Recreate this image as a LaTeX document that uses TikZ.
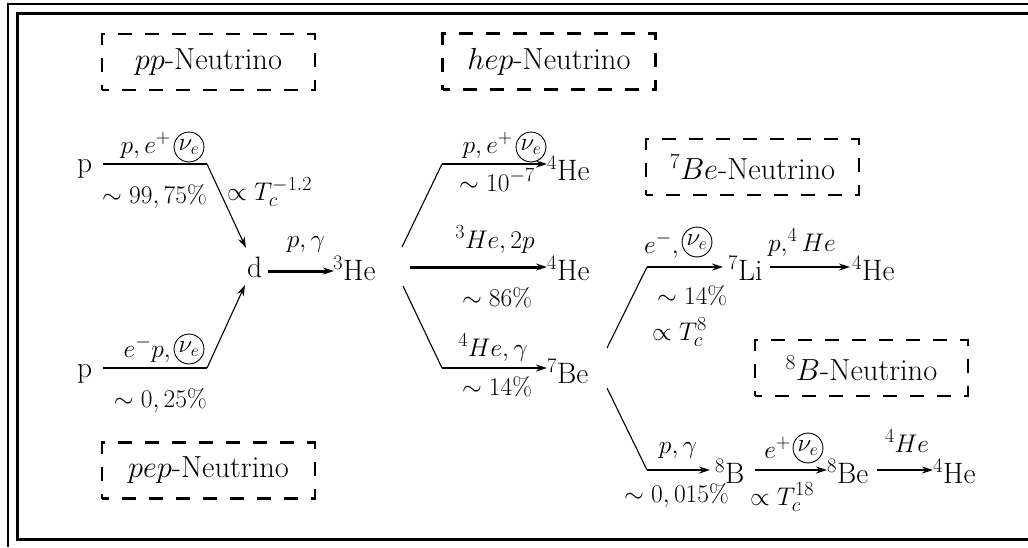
\RequirePackage{fix-cm}
\documentclass[tikz,border=0pt]{standalone}
\usetikzlibrary{arrows.meta}
\DeclareMathSizes{25.5}{25.5}{20}{15}
\begin{document}
\begin{tikzpicture}[x=1pt,y=-1pt,
  sp/.style={font=\fontsize{29.5}{35}\selectfont, inner sep=0pt, anchor=base west},
  lab/.style={font=\fontsize{25.5}{30}\selectfont, inner sep=0pt},
  nu/.style={draw, circle, inner sep=1.7pt, line width=0.9pt, font=\fontsize{25}{30}\selectfont},
  nbox/.style={draw, line width=2.5pt, dash pattern=on 14pt off 13pt, dash phase=7pt,
    minimum width=213pt, minimum height=56pt, font=\fontsize{30.5}{36}\selectfont, inner sep=0pt},
  diag/.style={line width=1.1pt},
  hl/.style={line width=1.8pt},
  thk/.style={line width=3pt},
  tip/.style={-{Stealth[length=11pt,width=7pt]}}
]
\useasboundingbox (0,0) rectangle (1028,547);
% frame
\draw[line width=2pt] (7.7,547) -- (7.7,4.3) -- (1028,4.3);
\draw[line width=3pt] (1028,539.7) -- (17.3,539.7) -- (17.3,13.5) -- (1028,13.5);

% neutrino boxes
\node[nbox] (bpp) at (208.5,62) {$pp$-Neutrino};
\node[nbox] (bpep) at (208.5,470.5) {$pep$-Neutrino};
\node[nbox] (bhep) at (549,61.5) {$hep$-Neutrino};
\node[nbox] (bbe) at (752.5,167) {$^7Be$-Neutrino};
\node[nbox] (bb) at (861.5,368) {$^8B$-Neutrino};

% species
\node[sp] (p1) at (77,172) {p};
\node[sp] (p2) at (77,377) {p};
\node[sp] (d) at (247,277) {d};
\node[sp] (he3) at (333,280) {$^3$He};
\node[sp] (he4a) at (547,180) {$^4$He};
\node[sp] (he4b) at (547,280) {$^4$He};
\node[sp] (be7) at (547,383) {$^7$Be};
\node[sp] (li7) at (728,280) {$^7$Li};
\node[sp] (he4c) at (852,280) {$^4$He};
\node[sp] (b8) at (715,483) {$^8$B};
\node[sp] (be8) at (827,483) {$^8$Be};
\node[sp] (he4d) at (933,483) {$^4$He};

% connector points
\coordinate (c1) at (103,164); \coordinate (k1) at (207,164); \coordinate (t1) at (246,248);
\coordinate (c2) at (103,368); \coordinate (k2) at (207,368); \coordinate (t2) at (245,285);
\coordinate (s3) at (268,271); \coordinate (t3) at (334,271);
\coordinate (s4) at (402,247); \coordinate (k4) at (442,164); \coordinate (t4) at (547,164);
\coordinate (s5) at (410,267); \coordinate (t5) at (547,267);
\coordinate (s6) at (403,286); \coordinate (k6) at (442,368); \coordinate (t6) at (547,368);
\coordinate (s7) at (607,348); \coordinate (k7) at (647,267); \coordinate (t7) at (723,267);
\coordinate (s8) at (770,267); \coordinate (t8) at (850,267);
\coordinate (s9) at (607,388); \coordinate (k9) at (647,470); \coordinate (t9) at (710,470);
\coordinate (s10) at (755,470); \coordinate (t10) at (827,470);
\coordinate (s11) at (877,470); \coordinate (t11) at (933,470);

% connectors
\draw[hl] (c1) -- (k1);
\draw[diag,tip] (k1) -- (t1);
\draw[hl] (c2) -- (k2);
\draw[diag,tip] (k2) -- (t2);
\draw[thk,tip] (s3) -- (t3);
\draw[diag] (s4) -- (k4);
\draw[hl,tip] (k4) -- (t4);
\draw[thk,tip] (s5) -- (t5);
\draw[diag] (s6) -- (k6);
\draw[hl,tip] (k6) -- (t6);
\draw[diag] (s7) -- (k7);
\draw[hl,tip] (k7) -- (t7);
\draw[hl,tip] (s8) -- (t8);
\draw[diag] (s9) -- (k9);
\draw[hl,tip] (k9) -- (t9);
\draw[hl,tip] (s10) -- (t10);
\draw[hl,tip] (s11) -- (t11);

% circled neutrinos
\node[nu] (n1) at (189,147) {$\nu_e$};
\node[nu] (n2) at (189,349) {$\nu_e$};
\node[nu] (n3) at (531,147) {$\nu_e$};
\node[nu] (n4) at (697,242) {$\nu_e$};
\node[nu] (n5) at (808,448) {$\nu_e$};

% labels
\node[lab,anchor=base east] (l1) at (171,153) {$p, e^+$};
\node[lab,anchor=base east] (l2) at (207,203) {$\sim 99,75\%$};
\node[lab,anchor=base west] (l3) at (227,200) {$\propto T_c^{-1.2}$};
\node[lab,anchor=base east] (l4) at (171,357) {$e^-p,$};
\node[lab,anchor=base east] (l5) at (207,407) {$\sim 0,25\%$};
\node[lab,anchor=base] (l6) at (306,247) {$p,\gamma$};
\node[lab,anchor=base east] (l7) at (513,153) {$p, e^+$};
\node[lab,anchor=base] (l8) at (497,191) {$\sim 10^{-7}$};
\node[lab,anchor=base] (l9) at (495,248) {$^3He,2p$};
\node[lab,anchor=base] (l10) at (497,306) {$\sim 86\%$};
\node[lab,anchor=base] (l11) at (493,356) {$^4He,\gamma$};
\node[lab,anchor=base] (l12) at (497,395) {$\sim 14\%$};
\node[lab,anchor=base east] (l13) at (679,253) {$e^-,$};
\node[lab,anchor=base west] (l14) at (657,304) {$\sim 14\%$};
\node[lab,anchor=base west] (l15) at (652,340) {$\propto T_c^{8}$};
\node[lab,anchor=base] (l16) at (802,251) {$p,^4He$};
\node[lab,anchor=base] (l17) at (678,453) {$p,\gamma$};
\node[lab,anchor=base east] (l18) at (791,458) {$e^+$};
\node[lab,anchor=base] (l19) at (907,452) {$^4He$};
\node[lab,anchor=base east] (l20) at (729,502) {$\sim 0,015\%$};
\node[lab,anchor=base west] (l21) at (750,505) {$\propto T_c^{18}$};
\end{tikzpicture}
\end{document}
